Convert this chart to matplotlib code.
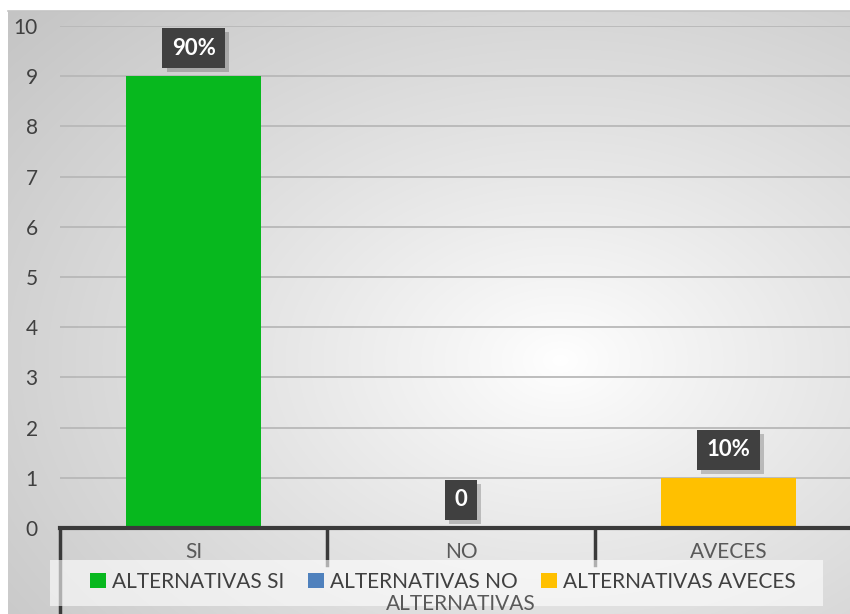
import numpy as np
import matplotlib
matplotlib.use("Agg")
import matplotlib.pyplot as plt
from matplotlib.patches import Patch, Rectangle
from matplotlib import patheffects as pe
from matplotlib.transforms import blended_transform_factory

categories = ["SI", "NO", "AVECES"]
values = [9, 0, 1]
value_labels = ["90%", "0", "10%"]
legend_names = ["ALTERNATIVAS SI", "ALTERNATIVAS NO", "ALTERNATIVAS AVECES"]
group_label = "ALTERNATIVAS"
colors = ["#07B81E", "#4F81BD", "#FFC000"]
y_ticks = list(range(0, 11))

plt.rcParams["font.family"] = ["Lato", "DejaVu Sans"]

W, H = 850, 614
fig = plt.figure(figsize=(W / 100, H / 100), dpi=100)

# radial grey-to-white background for the chart area
bg = fig.add_axes([0, 0, 1, 1], zorder=0)
bg.set_xlim(0, W)
bg.set_ylim(H, 0)
bg.axis("off")
yy, xx = np.mgrid[0:H, 0:W]
r = np.sqrt(((xx - 560) / 600.0) ** 2 + ((yy - 360) / 420.0) ** 2)
shade = 1.0 - 0.19 * r ** 0.9
img = np.dstack([shade] * 3)
img[:11] = 1.0
img[:, :8] = 1.0
bg.imshow(img, extent=(0, W, H, 0), interpolation="bilinear", aspect="auto")
bg.plot([8, W], [11, 11], color="#c4c4c4", lw=1.2)

ax = fig.add_axes([60 / W, (H - 528) / H, 802 / W, 502 / H], zorder=1)
ax.patch.set_alpha(0)
x = np.arange(len(categories))
bars = ax.bar(x, values, width=0.505, color=colors, zorder=3)

ax.set_xlim(-0.5, 2.5)
ax.set_ylim(0, 10)
ax.set_yticks(y_ticks)
ax.tick_params(axis="y", length=0, labelsize=15, labelcolor="#404040", pad=16)
ax.yaxis.grid(True, color="#b8b8b8", lw=1.3, zorder=0)
ax.set_axisbelow(True)
for s in ["left", "right", "top"]:
    ax.spines[s].set_visible(False)
ax.spines["bottom"].set_color("#3a3a3a")
ax.spines["bottom"].set_linewidth(3)
ax.spines["bottom"].set_zorder(4)

ax.set_xticks(x)
ax.set_xticklabels(categories)
ax.tick_params(axis="x", length=0, labelsize=15, labelcolor="#595959", pad=10)

# multi-level category separators
trans = blended_transform_factory(ax.transData, ax.transAxes)
ax.plot([-0.5, -0.5], [0, -0.18], color="#3a3a3a", lw=2.5, transform=trans, clip_on=False)
for sep in [0.5, 1.5]:
    ax.plot([sep, sep], [0, -0.074], color="#3a3a3a", lw=2.5, transform=trans, clip_on=False)

# value callouts
for xi, v, lab in zip(x, values, value_labels):
    t = ax.text(xi, v + 0.14 + 0.42, lab, ha="center", va="center", fontsize=16,
                fontweight="bold", color="white", zorder=6,
                bbox=dict(boxstyle="square,pad=0.42", fc="#404040", ec="none"))
    t.get_bbox_patch().set_path_effects(
        [pe.SimplePatchShadow(offset=(3, -3), shadow_rgbFace="#000000", alpha=0.2),
         pe.Normal()])

# translucent legend panel
fig.patches.append(Rectangle((50 / W, (H - 606) / H), 773 / W, 46 / H,
                             transform=fig.transFigure, fc="white", ec="none",
                             alpha=0.6, zorder=4))

handles = [Patch(facecolor=c, edgecolor="none") for c in colors]
leg = fig.legend(handles, legend_names, ncol=3, loc="center left",
                 bbox_to_anchor=(90 / W, (H - 582) / H, 706 / W, 0),
                 mode="expand", frameon=False, fontsize=15,
                 handlelength=0.75, handleheight=0.75, handletextpad=0.3,
                 borderaxespad=0, borderpad=0)
for txt in leg.get_texts():
    txt.set_color("#404040")
leg.set_zorder(5)

# outer category level label
fig.text(461 / W, 0.0, group_label, ha="center", va="bottom", fontsize=15,
         color="#595959", zorder=6)

fig.savefig("out.png", dpi=100)
